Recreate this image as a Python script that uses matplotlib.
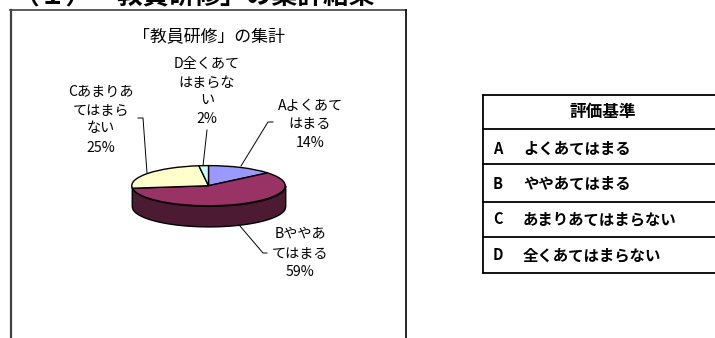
import matplotlib
matplotlib.use('Agg')
import matplotlib.pyplot as plt

plt.rcParams['font.family'] = ['Noto Sans CJK JP', 'DejaVu Sans']

# pie data
values = [14, 59, 25, 2]
colors = ['#9999FF', '#993366', '#FFFFCC', '#CCFFFF']
side_color = '#4C1A33'

# heading and chart title
heading = '（１）「教員研修」の集計結果'
chart_title = '「教員研修」の集計'

# slice labels, one list of lines each
label_a = ['Aよくあて', 'はまる', '14%']
label_b = ['Bややあ', 'てはまる', '59%']
label_c = ['Cあまりあ', 'てはまら', 'ない', '25%']
label_d = ['D全くあて', 'はまらな', 'い', '2%']

# table on the right
table_header = '評価基準'
table_keys = ['A', 'B', 'C', 'D']
table_rows = ['よくあてはまる', 'ややあてはまる', 'あまりあてはまらない', '全くあてはまらない']

W, H = 715, 338
fig = plt.figure(figsize=(W / 100, H / 100), dpi=100)

# page axes in pixels, y going down
page = fig.add_axes([0, 0, 1, 1])
page.set_xlim(0, W)
page.set_ylim(H, 0)
page.axis('off')

# heading is cut by the top edge in the source too
page.text(14, 3, heading, fontsize=18.5, fontweight='bold', ha='left', va='baseline')

# chart frame, open at the bottom
page.plot([11, 11], [H, 10], color='#404040', lw=1.6)
page.plot([10, 406], [10, 10], color='#404040', lw=1.2)
page.plot([406, 406], [10, H], color='black', lw=1.2)

page.text(209, 36, chart_title, fontsize=12.2, ha='center', va='center')


def put_label(lines, x, ys):
    for line, y in zip(lines, ys):
        page.text(x, y, line, fontsize=10.2, ha='center', va='center')


put_label(label_a, 310, [106, 124, 143])
put_label(label_b, 300, [234, 254, 272])
put_label(label_c, 101, [92, 111, 128, 148])
put_label(label_d, 207, [64, 83, 101, 119])

# leader lines
page.plot([241, 268, 273], [166, 122, 122], color='black', lw=0.7)
page.plot([203, 207], [166, 130], color='black', lw=0.7)
page.plot([147, 143, 138], [173, 118, 118], color='black', lw=0.7)
page.plot([240, 263, 267], [226, 253, 253], color='black', lw=0.7)

# table
left, right = 483, 715
row_lines = [95, 129, 164, 202, 237, 273]
for y in row_lines:
    page.plot([left, right], [y, y], color='black', lw=1.3)
page.plot([left, left], [row_lines[0], row_lines[-1]], color='black', lw=1.3)
page.text(603, 112, table_header, fontsize=12, fontweight='bold', ha='center', va='center')
for key, row, y in zip(table_keys, table_rows, [149, 184, 219, 255]):
    page.text(498, y, key, fontsize=10.5, fontweight='bold', ha='center', va='center')
    page.text(523, y, row, fontsize=11.1, fontweight='bold', ha='left', va='center')

# pie box: ellipse x 131-286, y 165-206, depth down to 227
depth = 21 / 20.5
pie_ax = fig.add_axes([131 / W, 1 - 227 / H, 155 / W, 62 / H])
pie_ax.set_zorder(2)
pie_ax.patch.set_visible(False)

xs = [i / 100 - 1 for i in range(201)]
top = [-(1 - x * x) ** 0.5 for x in xs]
bottom = [t - depth for t in top]
pie_ax.fill_between(xs, bottom, top, color=side_color, ec='black', lw=1.0)

pie_ax.pie(values, colors=colors, startangle=90, counterclock=False, radius=1,
           wedgeprops={'edgecolor': 'black', 'linewidth': 1.0})
pie_ax.set_aspect('auto')
pie_ax.set_xlim(-1.01, 1.01)
pie_ax.set_ylim(-1 - depth - 0.03, 1.03)
pie_ax.axis('off')

fig.savefig('out.png', dpi=100)
